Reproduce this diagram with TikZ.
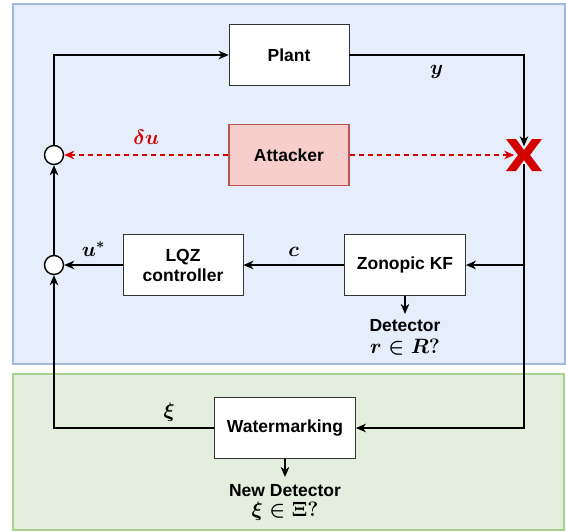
\documentclass[tikz,border=0pt]{standalone}
\usepackage{amsmath}
\usepackage{amssymb}
\usepackage{bm}
\usepackage{fontspec}
\setmainfont{Liberation Sans}
\usepackage{tikz}
\usetikzlibrary{arrows.meta}
\definecolor{bgblue}{HTML}{E6EEFB}
\definecolor{lineblue}{HTML}{A2B8DB}
\definecolor{bggreen}{HTML}{E4EEDE}
\definecolor{linegreen}{HTML}{A9D18E}
\definecolor{atkfill}{HTML}{F8CECC}
\definecolor{atkline}{HTML}{B85450}
\definecolor{atkred}{HTML}{D40000}
\newcommand{\mathbig}[1]{{\fontsize{21}{22}\selectfont$\bm{#1}$}}
\tikzset{
  blk/.style={draw=black!80, line width=0.8pt, fill=white, minimum width=120pt, minimum height=61pt, align=center},
  sumc/.style={circle, draw, line width=1.4pt, fill=white, minimum size=19pt, inner sep=0pt},
  attack/.style={atkred, dashed, dash pattern=on 5pt off 4pt, line width=1.4pt},
  mlab/.style={inner sep=2pt}
}

\begin{document}
\begin{tikzpicture}[x=1pt,y=-1pt,font=\bfseries\boldmath\fontsize{17.5}{20}\selectfont,
    >={Stealth[length=10pt,width=8.5pt,inset=3pt]}, line width=1.4pt]
        \useasboundingbox (0,0) rectangle (566,531);
        \filldraw[fill=bgblue, draw=lineblue, line width=1.5pt] (13,4) rectangle (565,364);
        \filldraw[fill=bggreen, draw=linegreen, line width=1.5pt] (13,374) rectangle (564,530);
        \node[blk] (P) at (289,55) {Plant};
        \node[blk, fill=atkfill, draw=atkline, line width=1.2pt] (A) at (289,155) {Attacker};
        \node[blk] (L) at (183,265) {LQZ\\controller};
        \node[blk, minimum width=121pt] (K) at (405,265) {Zonopic KF};
        \node[blk, minimum width=141pt] (W) at (285,428) {Watermarking};
        \node[sumc] (C1) at (54,155) {};
        \node[sumc] (C2) at (54,265) {};
        \node[minimum width=18pt, minimum height=16pt, inner sep=0pt] (X) at (524,155) {};
        \coordinate (T) at (524,265);
        \node[anchor=north, align=center, inner sep=5pt] (D) at (405,314) {Detector\\[2pt]\mathbig{r\in R?}};
        \node[anchor=north, align=center, inner sep=7pt] (N) at (285,477) {New Detector\\[0pt]\mathbig{\xi\in \Xi?}};
        % cut mark on the measurement line
        \fill[atkred, shift={(X.center)}] (-18,-16) -- (-8,-16) -- (0,-5) -- (8,-16) -- (18,-16) -- (6,0)
            -- (18,16) -- (8,16) -- (0,5) -- (-8,16) -- (-18,16) -- (-6,0) -- cycle;
        \draw[->] (C1) |- (P);
        \draw[->] (P) -| (X) node[mlab, pos=0.25, below=8pt] {\mathbig{y}};
        \draw[->] (X) |- (W);
        \draw[->] (T) -- (K);
        \draw[->] (K) -- (L) node[mlab, midway, above=6pt] {\mathbig{c}};
        \draw[->] (L) -- (C2) node[mlab, midway, above=6pt] {\mathbig{u^*}};
        \draw[->] (W) -| (C2) node[mlab, pos=0.14, above=4pt] {\mathbig{\xi}};
        \draw[->] (C2) -- (C1);
        \draw[->] (K) -- (D);
        \draw[->] (W) -- (N);
        \draw[attack,->] (A) -- (C1) node[mlab, midway, above=8pt, atkred] {\mathbig{\delta u}};
        \draw[attack,->] (A) -- (X);
    \end{tikzpicture}
\end{document}
